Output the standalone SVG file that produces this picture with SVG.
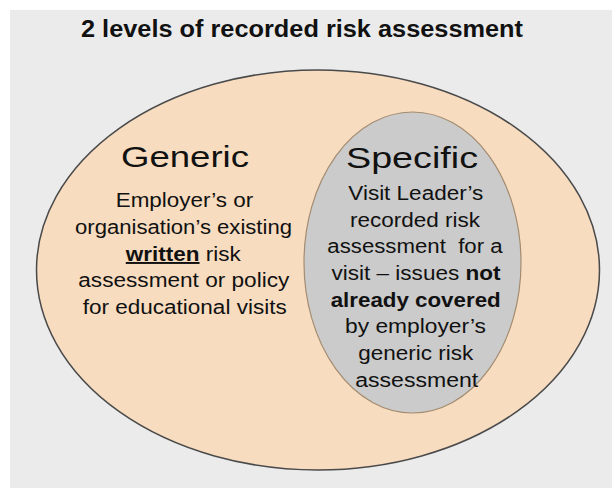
<svg xmlns="http://www.w3.org/2000/svg" width="612" height="488" viewBox="0 0 612 488">
<style>
.t{font-family:"Liberation Sans",Arial,sans-serif;fill:#111;text-anchor:middle}
.b{font-size:19.5px}
.h{font-size:30px}
.bold{font-weight:bold}
</style>
<rect x="0" y="0" width="612" height="488" fill="#ffffff"/>
<rect x="10" y="10" width="602" height="478" fill="#ebebeb"/>
<text class="t bold" x="302" y="37" font-size="23" textLength="442" lengthAdjust="spacingAndGlyphs">2 levels of recorded risk assessment</text>
<g id="generic">
<ellipse cx="318" cy="270" rx="281.5" ry="200" fill="#f7dcc0" stroke="#4a4a4a" stroke-width="1.5"/>
<text class="t h" x="185" y="167" textLength="128" lengthAdjust="spacingAndGlyphs">Generic</text>
<text class="t b" x="184.5" y="207.3" textLength="137.6" lengthAdjust="spacingAndGlyphs">Employer’s or</text>
<text class="t b" x="183.5" y="234" textLength="217" lengthAdjust="spacingAndGlyphs">organisation’s existing</text>
<text class="t b" x="183.3" y="261" textLength="115" lengthAdjust="spacingAndGlyphs"><tspan font-weight="bold" text-decoration="underline">written</tspan> risk</text>
<text class="t b" x="183.8" y="287" textLength="211" lengthAdjust="spacingAndGlyphs">assessment or policy</text>
<text class="t b" x="184.7" y="314" textLength="204" lengthAdjust="spacingAndGlyphs">for educational visits</text>
</g>
<g id="specific">
<ellipse cx="412.5" cy="262.5" rx="108.5" ry="150.5" fill="#cbcbcb" stroke="#a38c70" stroke-width="1.2"/>
<text class="t h" x="412" y="168.3" textLength="132" lengthAdjust="spacingAndGlyphs">Specific</text>
<text class="t b" x="415.8" y="200" textLength="135" lengthAdjust="spacingAndGlyphs">Visit Leader’s</text>
<text class="t b" x="415" y="226.7" textLength="130" lengthAdjust="spacingAndGlyphs">recorded risk</text>
<text class="t b" x="415" y="253.3" textLength="175.3" lengthAdjust="spacingAndGlyphs" xml:space="preserve">assessment  for a</text>
<text class="t b" x="416" y="280.3" textLength="169" lengthAdjust="spacingAndGlyphs">visit – issues <tspan font-weight="bold">not</tspan></text>
<text class="t b bold" x="415.7" y="306.7" textLength="170" lengthAdjust="spacingAndGlyphs">already covered</text>
<text class="t b" x="415.5" y="333.3" textLength="141" lengthAdjust="spacingAndGlyphs">by employer’s</text>
<text class="t b" x="415.8" y="360" textLength="115" lengthAdjust="spacingAndGlyphs">generic risk</text>
<text class="t b" x="416.7" y="386.7" textLength="123" lengthAdjust="spacingAndGlyphs">assessment</text>
</g>
<g id="connectors"/>
</svg>
